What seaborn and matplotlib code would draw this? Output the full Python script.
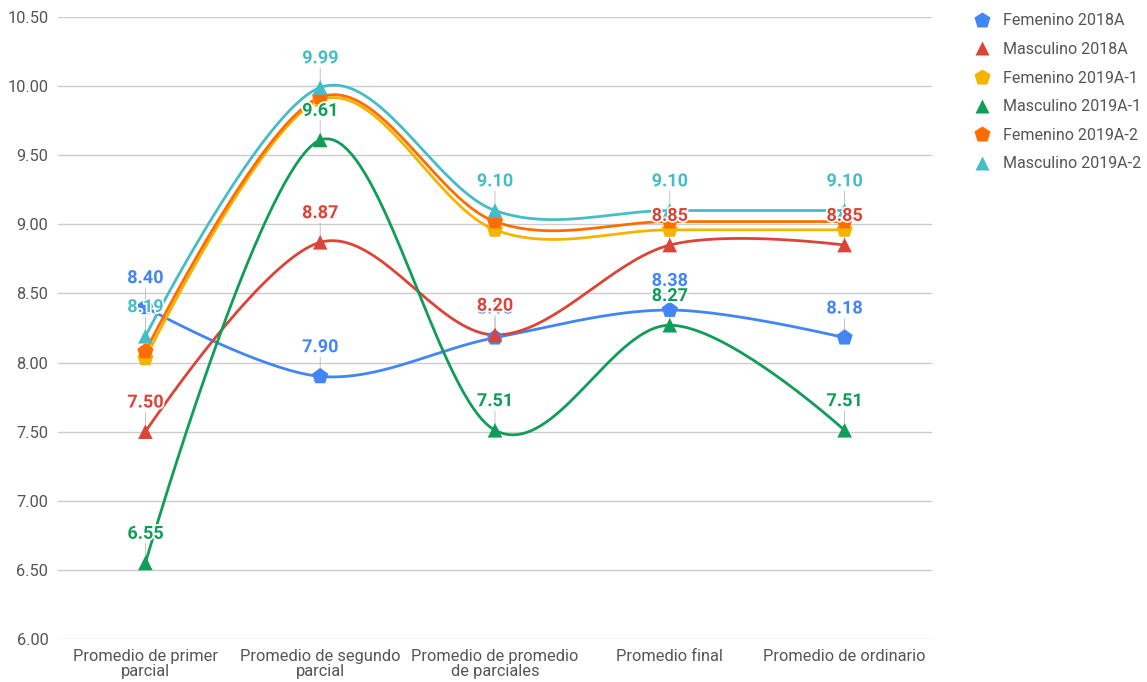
import numpy as np
import pandas as pd
import matplotlib
matplotlib.use("Agg")
import matplotlib.pyplot as plt
import matplotlib.patheffects as pe
from matplotlib.lines import Line2D
import seaborn as sns

# ---- data ----
categories = ["Promedio de primer\nparcial", "Promedio de segundo\nparcial",
              "Promedio de promedio\nde parciales", "Promedio final", "Promedio de ordinario"]
series_names = ["Femenino 2018A", "Masculino 2018A", "Femenino 2019A-1",
                "Masculino 2019A-1", "Femenino 2019A-2", "Masculino 2019A-2"]
fem_2018a = [8.40, 7.90, 8.18, 8.38, 8.18]
masc_2018a = [7.50, 8.87, 8.20, 8.85, 8.85]
fem_2019a1 = [8.03, 9.90, 8.96, 8.96, 8.96]
masc_2019a1 = [6.55, 9.61, 7.51, 8.27, 7.51]
fem_2019a2 = [8.08, 9.92, 9.02, 9.02, 9.02]
masc_2019a2 = [8.19, 9.99, 9.10, 9.10, 9.10]
values = [fem_2018a, masc_2018a, fem_2019a1, masc_2019a1, fem_2019a2, masc_2019a2]
labeled = [True, True, False, True, False, True]
y_ticks = [6.00, 6.50, 7.00, 7.50, 8.00, 8.50, 9.00, 9.50, 10.00, 10.50]

colors = ["#4285F4", "#DB4437", "#F4B400", "#0F9D58", "#FF6D00", "#46BDC6"]
markers = ["p", "^", "p", "^", "p", "^"]

sns.set_theme(style="white")
plt.rcParams["font.family"] = ["Roboto", "DejaVu Sans"]

fig = plt.figure(figsize=(11.47, 6.82), dpi=100)
ax = fig.add_axes([58 / 1147, 1 - 639 / 682, (932 - 58) / 1147, (639 - 17) / 682])


def smooth(y, n=40):
    """Bezier smoothing (Catmull-Rom style handles) for rendering the curve."""
    y = np.asarray(y, float)
    k = len(y)
    m = np.zeros(k)
    for i in range(1, k - 1):
        m[i] = (y[i + 1] - y[i - 1]) / 2.0
    xs, ys = [], []
    t = np.linspace(0, 1, n)
    for i in range(k - 1):
        p0 = np.array([i, y[i]])
        p3 = np.array([i + 1, y[i + 1]])
        p1 = p0.copy() if i == 0 else np.array([i + 1 / 3, y[i] + m[i] / 3])
        p2 = p3.copy() if i + 1 == k - 1 else np.array([i + 1 - 1 / 3, y[i + 1] - m[i + 1] / 3])
        b = ((1 - t) ** 3)[:, None] * p0 + (3 * (1 - t) ** 2 * t)[:, None] * p1 \
            + (3 * (1 - t) * t ** 2)[:, None] * p2 + (t ** 3)[:, None] * p3
        xs.extend(b[:, 0])
        ys.extend(b[:, 1])
    return np.array(xs), np.array(ys)


x_idx = np.arange(len(categories))
for name, vals, c, mk in zip(series_names, values, colors, markers):
    cx, cy = smooth(vals)
    sns.lineplot(x=cx, y=cy, ax=ax, color=c, lw=2, sort=False, estimator=None, zorder=2)
    df = pd.DataFrame({"x": x_idx, "y": vals})
    sns.scatterplot(data=df, x="x", y="y", ax=ax, color=c, marker=mk,
                    s=150 if mk == "p" else 110, edgecolor="none", zorder=3)

# thin stems
for vals, lab in zip(values, labeled):
    if not lab:
        continue
    for xi, v in zip(x_idx, vals):
        ax.annotate("", xy=(xi, v), xytext=(0, 14), textcoords="offset points",
                    arrowprops=dict(arrowstyle="-", color="#bbbbbb", lw=0.6,
                                    shrinkA=0, shrinkB=0), zorder=1)

for name, vals, c, lab in zip(series_names, values, colors, labeled):
    if not lab:
        continue
    for xi, v in zip(x_idx, vals):
        ax.annotate(f"{v:.2f}", xy=(xi, v), xytext=(0, 21), textcoords="offset points",
                    ha="center", va="center", fontsize=13, fontweight="bold", color=c,
                    zorder=5,
                    path_effects=[pe.withStroke(linewidth=2.5, foreground="white")])

ax.set_xlim(-0.5, len(categories) - 0.5)
ax.set_ylim(6.0, 10.5)
ax.set_yticks(y_ticks)
ax.set_yticklabels([f"{v:.2f}" for v in y_ticks])
ax.set_xticks(x_idx)
ax.set_xticklabels(categories, linespacing=1.05)
ax.tick_params(axis="both", length=0, labelsize=11.8, colors="#555555")
ax.tick_params(axis="x", pad=7)
ax.tick_params(axis="y", pad=7)
ax.grid(axis="y", color="#cccccc", lw=1)
ax.grid(axis="x", visible=False)
ax.set_axisbelow(True)
for s in ax.spines.values():
    s.set_visible(False)
ax.set_xlabel("")
ax.set_ylabel("")
if ax.get_legend():
    ax.get_legend().remove()

handles = [Line2D([0], [0], marker=mk, color="none", markerfacecolor=c,
                  markeredgecolor="none", markersize=12 if mk == "p" else 10)
           for c, mk in zip(colors, markers)]
leg = fig.legend(handles, series_names, loc="upper left",
                 bbox_to_anchor=(958 / 1147, 1 + 1 / 682), frameon=False,
                 fontsize=11.5, labelspacing=0.85, handletextpad=0.7,
                 handlelength=1.2, labelcolor="#555555")

fig.savefig("out.png", dpi=100)
